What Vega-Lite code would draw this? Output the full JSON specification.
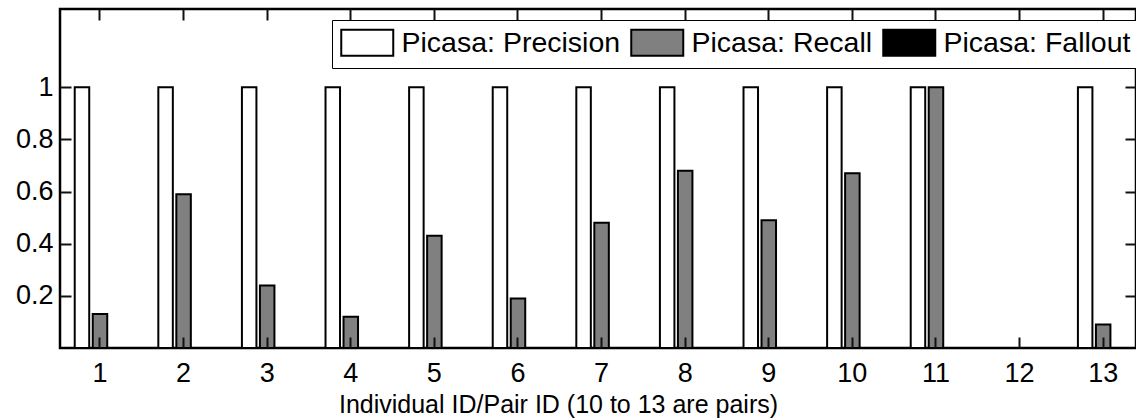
{
  "$schema": "https://vega.github.io/schema/vega-lite/v6.json",
  "width": 1076,
  "height": 339,
  "autosize": {"type": "none"},
  "padding": {"left": 60, "top": 9, "right": 0, "bottom": 71},
  "background": "white",
  "config": {
    "view": {"stroke": "black", "strokeWidth": 2.5},
    "font": "Liberation Sans",
    "axis": {
      "grid": false,
      "domain": false,
      "tickColor": "#111111",
      "tickOpacity": 1,
      "tickWidth": 2,
      "tickSize": -11,
      "labelColor": "black",
      "labelFont": "Liberation Sans",
      "labelFontSize": 27,
      "titleColor": "black",
      "titleFont": "Liberation Sans",
      "titleFontWeight": "normal",
      "titleFontSize": 25
    },
    "legend": {
      "strokeColor": "black",
      "fillColor": "white",
      "padding": 8,
      "symbolStrokeColor": "black",
      "symbolStrokeWidth": 2
    }
  },
  "data": {
    "values": [
      {"id": 1, "series": "Picasa: Precision", "value": 1},
      {"id": 1, "series": "Picasa: Recall", "value": 0.13},
      {"id": 1, "series": "Picasa: Fallout", "value": 0},
      {"id": 2, "series": "Picasa: Precision", "value": 1},
      {"id": 2, "series": "Picasa: Recall", "value": 0.59},
      {"id": 2, "series": "Picasa: Fallout", "value": 0},
      {"id": 3, "series": "Picasa: Precision", "value": 1},
      {"id": 3, "series": "Picasa: Recall", "value": 0.24},
      {"id": 3, "series": "Picasa: Fallout", "value": 0},
      {"id": 4, "series": "Picasa: Precision", "value": 1},
      {"id": 4, "series": "Picasa: Recall", "value": 0.12},
      {"id": 4, "series": "Picasa: Fallout", "value": 0},
      {"id": 5, "series": "Picasa: Precision", "value": 1},
      {"id": 5, "series": "Picasa: Recall", "value": 0.43},
      {"id": 5, "series": "Picasa: Fallout", "value": 0},
      {"id": 6, "series": "Picasa: Precision", "value": 1},
      {"id": 6, "series": "Picasa: Recall", "value": 0.19},
      {"id": 6, "series": "Picasa: Fallout", "value": 0},
      {"id": 7, "series": "Picasa: Precision", "value": 1},
      {"id": 7, "series": "Picasa: Recall", "value": 0.48},
      {"id": 7, "series": "Picasa: Fallout", "value": 0},
      {"id": 8, "series": "Picasa: Precision", "value": 1},
      {"id": 8, "series": "Picasa: Recall", "value": 0.68},
      {"id": 8, "series": "Picasa: Fallout", "value": 0},
      {"id": 9, "series": "Picasa: Precision", "value": 1},
      {"id": 9, "series": "Picasa: Recall", "value": 0.49},
      {"id": 9, "series": "Picasa: Fallout", "value": 0},
      {"id": 10, "series": "Picasa: Precision", "value": 1},
      {"id": 10, "series": "Picasa: Recall", "value": 0.67},
      {"id": 10, "series": "Picasa: Fallout", "value": 0},
      {"id": 11, "series": "Picasa: Precision", "value": 1},
      {"id": 11, "series": "Picasa: Recall", "value": 1},
      {"id": 11, "series": "Picasa: Fallout", "value": 0},
      {"id": 12, "series": "Picasa: Precision", "value": 0},
      {"id": 12, "series": "Picasa: Recall", "value": 0},
      {"id": 12, "series": "Picasa: Fallout", "value": 0},
      {"id": 13, "series": "Picasa: Precision", "value": 1},
      {"id": 13, "series": "Picasa: Recall", "value": 0.09},
      {"id": 13, "series": "Picasa: Fallout", "value": 0}
    ]
  },
  "layer": [
    {
      "mark": {"type": "bar", "stroke": "black", "strokeWidth": 2},
      "encoding": {
        "x": {
          "field": "id",
          "type": "ordinal",
          "scale": {"domain": [1,2,3,4,5,6,7,8,9,10,11,12,13], "paddingInner": 0.354, "paddingOuter": 0.1125, "align": 0.69},
          "axis": {"orient": "bottom", "labelAngle": 0, "labelPadding": 23, "tickColor": "#111111", "tickSize": -11, "zindex": 2, "title": "Individual ID/Pair ID (10 to 13 are pairs)", "titleX": 498, "titleY": 64, "titleBaseline": "alphabetic", "titleAlign": "center"}
        },
        "xOffset": {
          "field": "series",
          "type": "nominal",
          "scale": {"domain": ["Picasa: Precision", "Picasa: Recall", "Picasa: Fallout"], "paddingInner": 0.194, "paddingOuter": 0.097}
        },
        "y": {
          "field": "value",
          "type": "quantitative",
          "scale": {"domain": [0, 1.3], "nice": false},
          "axis": {"orient": "left", "values": [0.2, 0.4, 0.6, 0.8, 1], "format": "~g", "labelPadding": 18, "tickColor": "#111111", "tickSize": -11, "zindex": 2, "title": null}
        },
        "fill": {
          "field": "series",
          "type": "nominal",
          "scale": {"domain": ["Picasa: Precision", "Picasa: Recall", "Picasa: Fallout"], "range": ["white", "#808080", "black"]},
          "legend": {
            "title": null,
            "orient": "none",
            "legendX": 272,
            "legendY": 11,
            "direction": "horizontal",
            "columns": 3,
            "columnPadding": 6,
            "symbolType": "M-1,-1H3V1H-1Z",
            "symbolSize": 676,
            "symbolOpacity": 1,
            "labelOffset": 33,
            "labelFont": "Liberation Sans",
            "labelFontSize": 28.5,
            "labelColor": "black",
            "labelLimit": 0,
            "zindex": 3
          }
        }
      }
    },
    {
      "mark": {"type": "bar", "opacity": 0},
      "encoding": {
        "x": {"field": "id", "type": "ordinal", "axis": {"orient": "top", "labels": false, "title": null, "tickColor": "#111111", "tickSize": -11, "zindex": 2}},
        "y": {"field": "value", "type": "quantitative", "axis": {"orient": "right", "labels": false, "title": null, "tickColor": "#111111", "tickSize": -11, "zindex": 2, "values": [0.2, 0.4, 0.6, 0.8, 1]}}
      }
    }
  ],
  "resolve": {"axis": {"x": "independent", "y": "independent"}}
}
